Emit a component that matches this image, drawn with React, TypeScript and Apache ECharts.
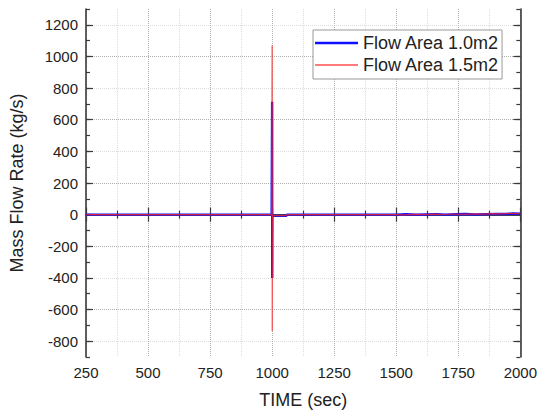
import React, { useEffect, useRef } from "react";
import * as echarts from "echarts";

const FONT = "'Liberation Sans', Arial, sans-serif";

const xTitle = "TIME (sec)";
const yTitle = "Mass Flow Rate (kg/s)";
const seriesNames = ["Flow Area 1.0m2", "Flow Area 1.5m2"];

const yMajorTicks = [-800, -600, -400, -200, 0, 200, 400, 600, 800, 1000, 1200];

const blueTime = [250, 500, 750, 998, 999.6, 1000, 1000.4, 1001, 1003, 1030, 1056, 1060, 1250, 1500, 1540, 1580, 1620, 1660, 1700, 1740, 1780, 1820, 1860, 1900, 1940, 1970, 2000];
const blueFlow = [0, 0, 0, 0, 0, 714, -400, -12, -8, -8, -8, 0, 0, 0, 2, -1, 1, 3, 0, 2, 4, 1, 3, 5, 4, 7, 6];

const redTime = [250, 500, 750, 998, 999.6, 1000, 1000.4, 1001, 1003, 1030, 1056, 1060, 1250, 1500, 1530, 1570, 1610, 1650, 1690, 1730, 1770, 1810, 1850, 1890, 1930, 1960, 2000];
const redFlow = [0, 0, 0, 0, 0, 1069, -735, -10, -6, -6, -6, 0, 0, 0, -2, 2, 0, 3, 1, 4, 2, 5, 3, 6, 5, 8, 6];

const AXIS_COLOR = "#3a3a3a";
const TEXT_COLOR = "#222";

export default function App() {
  const ref = useRef<HTMLDivElement>(null);
  useEffect(() => {
    if (!ref.current) return;
    const chart = echarts.init(ref.current, null, { renderer: "svg" });
    const axisLine = { show: true, lineStyle: { color: AXIS_COLOR, width: 1.6 } };
    const tickStyle = { color: AXIS_COLOR, width: 1.2 };
    const plain = (v: number) => String(v);
    const xBase = {
      type: "value" as const,
      min: 250,
      max: 2000,
      interval: 250,
      axisLine,
      axisTick: { show: true, inside: true, length: 7, lineStyle: tickStyle },
      minorTick: { show: true, splitNumber: 2, length: 4, lineStyle: tickStyle },
    };
    const yBase = { type: "value" as const, min: -900, max: 1300, interval: 100 };
    chart.setOption({
      animation: false,
      backgroundColor: "#fff",
      grid: { left: 84, right: 17, top: 9, bottom: 54 },
      legend: {
        orient: "vertical",
        left: 313,
        top: 30,
        padding: [4, 3, 5, 2],
        itemWidth: 43,
        itemHeight: 18,
        itemGap: 4,
        borderColor: "#999",
        borderWidth: 1,
        borderRadius: 0,
        backgroundColor: "#fff",
        textStyle: { fontFamily: FONT, fontSize: 18, color: TEXT_COLOR },
        data: [
          { name: seriesNames[0], icon: "path://M0,0L43,0L43,2.4L0,2.4Z", itemStyle: { color: "#1010ff" } },
          { name: seriesNames[1], icon: "path://M0,0L43,0L43,1.8L0,1.8Z", itemStyle: { color: "#ff7a7a" } },
        ],
      },
      xAxis: [
        {
          ...xBase,
          position: "bottom",
          name: xTitle,
          nameLocation: "middle",
          nameGap: 34,
          nameTextStyle: { fontFamily: FONT, fontSize: 18, color: TEXT_COLOR },
          axisLabel: { fontFamily: FONT, fontSize: 15, color: TEXT_COLOR, margin: 8, formatter: plain },
          splitLine: { show: true, lineStyle: { type: "dotted", color: "#b0b0b0", width: 1 } },
          minorSplitLine: { show: true, lineStyle: { type: "dotted", color: "#dcdcdc", width: 1 } },
        },
        {
          ...xBase,
          position: "top",
          axisLabel: { show: false },
          splitLine: { show: false },
        },
      ],
      yAxis: [
        {
          ...yBase,
          position: "left",
          name: yTitle,
          nameLocation: "middle",
          nameGap: 60,
          nameTextStyle: { fontFamily: FONT, fontSize: 18, color: TEXT_COLOR },
          axisLine,
          axisTick: { show: true, inside: true, length: 7, lineStyle: tickStyle, customValues: yMajorTicks },
          axisLabel: { fontFamily: FONT, fontSize: 15, color: TEXT_COLOR, margin: 8, customValues: yMajorTicks, formatter: plain },
          splitLine: { show: true, lineStyle: { type: "dotted", color: ["#dcdcdc", "#b0b0b0"], width: 1 } },
        },
        {
          ...yBase,
          position: "left",
          axisLine: { show: false },
          axisTick: { show: true, inside: true, length: 4, lineStyle: tickStyle },
          axisLabel: { show: false },
          splitLine: { show: false },
        },
        {
          ...yBase,
          position: "right",
          axisLine,
          axisTick: { show: true, inside: true, length: 7, lineStyle: tickStyle, customValues: yMajorTicks },
          axisLabel: { show: false },
          splitLine: { show: false },
        },
        {
          ...yBase,
          position: "right",
          axisLine: { show: false },
          axisTick: { show: true, inside: true, length: 4, lineStyle: tickStyle },
          axisLabel: { show: false },
          splitLine: { show: false },
        },
      ],
      series: [
        {
          name: seriesNames[0],
          type: "line",
          xAxisIndex: 0,
          yAxisIndex: 0,
          symbol: "none",
          color: "#1010ff",
          lineStyle: { color: "#1010ff", width: 2.4 },
          data: blueTime.map((t, i) => [t, blueFlow[i]]),
          z: 2,
        },
        {
          name: seriesNames[1],
          type: "line",
          xAxisIndex: 0,
          yAxisIndex: 0,
          symbol: "none",
          color: "#ff3030",
          lineStyle: { color: "#ff2020", width: 1.2, opacity: 0.8 },
          data: redTime.map((t, i) => [t, redFlow[i]]),
          z: 3,
        },
      ],
    });
    return () => chart.dispose();
  }, []);
  return (
    <div
      ref={ref}
      style={{ position: "absolute", left: 0, top: 0, width: 540, height: 414 }}
    />
  );
}
